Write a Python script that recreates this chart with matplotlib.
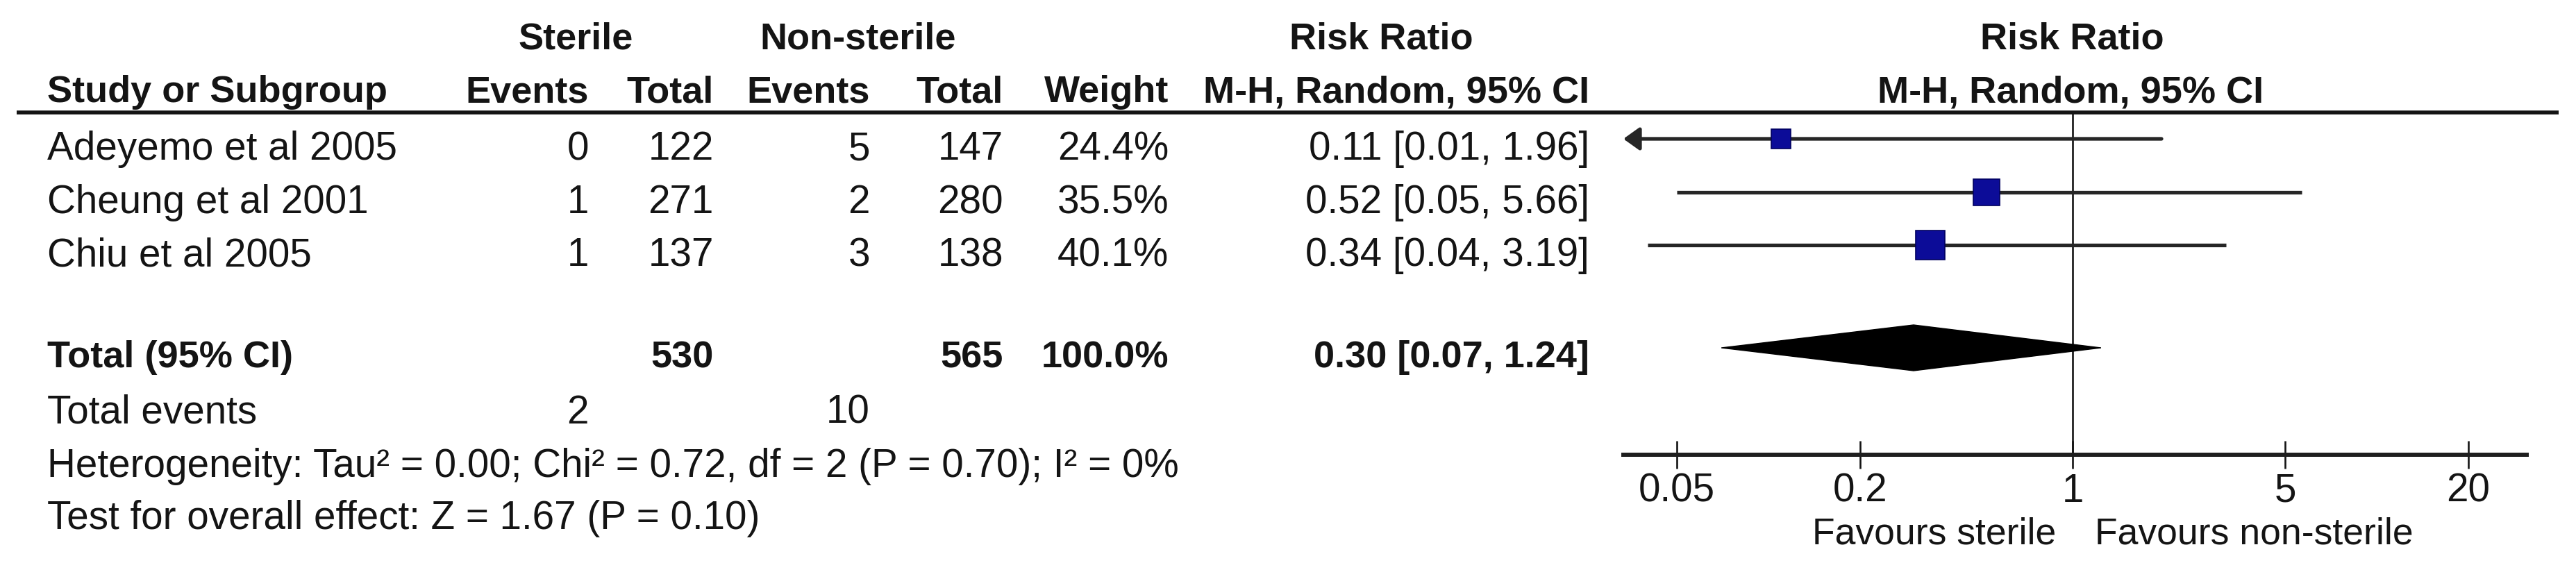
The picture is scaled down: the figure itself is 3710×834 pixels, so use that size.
import matplotlib
matplotlib.use("Agg")
import matplotlib.pyplot as plt
from matplotlib.patches import Polygon
from matplotlib.ticker import NullLocator, FixedLocator, FixedFormatter

# ---------------- data ----------------
studies = ["Adeyemo et al 2005", "Cheung et al 2001", "Chiu et al 2005"]
sterile_events = [0, 1, 1]
sterile_total = [122, 271, 137]
nonsterile_events = [5, 2, 3]
nonsterile_total = [147, 280, 138]
weights = [24.4, 35.5, 40.1]
rr = [0.11, 0.52, 0.34]
ci_low = [0.01, 0.05, 0.04]
ci_high = [1.96, 5.66, 3.19]

total_sterile = 530
total_nonsterile = 565
total_weight = 100.0
total_rr = 0.30
total_low = 0.07
total_high = 1.24
events_sterile = 2
events_nonsterile = 10

heterogeneity = "Heterogeneity: Tau\u00b2 = 0.00; Chi\u00b2 = 0.72, df = 2 (P = 0.70); I\u00b2 = 0%"
overall_test = "Test for overall effect: Z = 1.67 (P = 0.10)"

tick_values = [0.05, 0.2, 1, 5, 20]
tick_labels = ["0.05", "0.2", "1", "5", "20"]
favours_left = "Favours sterile"
favours_right = "Favours non-sterile"

# ---------------- figure ----------------
plt.rcParams['font.family'] = ['Liberation Sans', 'DejaVu Sans']
W, H, DPI = 3710, 834, 100
fig = plt.figure(figsize=(W / DPI, H / DPI), dpi=DPI)
fig.patch.set_facecolor('white')

ink = '#141414'
FS = 40.8
FSB = 39.0

tax = fig.add_axes([0, 0, 1, 1])
tax.set_xlim(0, W)
tax.set_ylim(H, 0)
tax.axis('off')


def T(x, y, s, ha='left', bold=False, size=None):
    if size is None:
        size = FSB if bold else FS
    tax.text(x, y, s, ha=ha, va='baseline', fontsize=size,
             fontweight='bold' if bold else 'normal', color=ink)


# column anchors (pixels)
x_name = 68
x_se, x_st, x_ne, x_nt, x_w, x_rr = 848, 1028, 1253, 1445, 1683, 2289

# headers
T(829, 70, 'Sterile', 'center', True)
T(1236, 70, 'Non-sterile', 'center', True)
T(1989, 70, 'Risk Ratio', 'center', True)
T(2984, 70, 'Risk Ratio', 'center', True)
hy = 147
T(x_name, hy, 'Study or Subgroup', 'left', True)
T(x_se, hy, 'Events', 'right', True)
T(x_st, hy, 'Total', 'right', True)
T(x_ne, hy, 'Events', 'right', True)
T(x_nt, hy, 'Total', 'right', True)
T(x_w, hy, 'Weight', 'right', True)
T(x_rr, hy, 'M-H, Random, 95% CI', 'right', True)
T(2982, hy, 'M-H, Random, 95% CI', 'center', True)

tax.plot([24, 3685], [162, 162], color=ink, lw=4.0, solid_capstyle='butt')

# study rows
row_base = [230, 307, 383]
for i, name in enumerate(studies):
    y = row_base[i]
    T(x_name, y, name)
    T(x_se, y, f"{sterile_events[i]}", 'right')
    T(x_st, y, f"{sterile_total[i]}", 'right')
    T(x_ne, y, f"{nonsterile_events[i]}", 'right')
    T(x_nt, y, f"{nonsterile_total[i]}", 'right')
    T(x_w, y, f"{weights[i]:.1f}%", 'right')
    T(x_rr, y, f"{rr[i]:.2f} [{ci_low[i]:.2f}, {ci_high[i]:.2f}]", 'right')

# total row
ty = 529
T(x_name, ty, 'Total (95% CI)', 'left', True)
T(x_st, ty, f"{total_sterile}", 'right', True)
T(x_nt, ty, f"{total_nonsterile}", 'right', True)
T(x_w, ty, f"{total_weight:.1f}%", 'right', True)
T(x_rr, ty, f"{total_rr:.2f} [{total_low:.2f}, {total_high:.2f}]", 'right', True)

ey = 610
T(x_name, ey, 'Total events')
T(x_se, ey, f"{events_sterile}", 'right')
T(x_ne, ey, f"{events_nonsterile}", 'right')
T(x_name, 687, heterogeneity)
T(x_name, 762, overall_test)

T(2961, 784, favours_left, 'right', size=38.5)
T(3017, 784, favours_right, 'left', size=38.5)

# ---------------- forest axes ----------------
left_px, right_px, top_px, bot_px = 2338, 3639, 163, 655
center_px, px_per_decade = 2985, 438.0
row_px0, row_step = 200.0, 76.5

fax = fig.add_axes([left_px / W, 1 - bot_px / H,
                    (right_px - left_px) / W, (bot_px - top_px) / H])
fax.set_xscale('log')
xmin = 10 ** ((left_px - center_px) / px_per_decade)
xmax = 10 ** ((right_px - center_px) / px_per_decade)
fax.set_xlim(xmin, xmax)
y_top = 1 - (row_px0 - top_px) / row_step
y_bot = 1 + (bot_px - row_px0) / row_step
fax.set_ylim(y_bot, y_top)
fax.patch.set_alpha(0)
for s in ['top', 'left', 'right']:
    fax.spines[s].set_visible(False)
fax.spines['bottom'].set_linewidth(4.3)
fax.spines['bottom'].set_color('#1e1e1e')
fax.set_yticks([])
fax.xaxis.set_major_locator(FixedLocator(tick_values))
fax.xaxis.set_major_formatter(FixedFormatter(tick_labels))
fax.xaxis.set_minor_locator(NullLocator())
fax.tick_params(axis='x', direction='inout', length=28.8, width=1.9,
                pad=4, labelsize=FS, colors=ink)

fax.axvline(1, color=ink, lw=1.9, zorder=1)

blue_face = '#0c0c98'
blue_edge = '#000060'
line_col = '#262626'
max_w = max(weights)
for i in range(len(studies)):
    y = i + 1
    lo = ci_low[i]
    if lo < xmin:
        fax.annotate('', xy=(xmin, y), xytext=(ci_high[i], y),
                     arrowprops=dict(arrowstyle='-|>,head_length=0.7,head_width=0.5',
                                     mutation_scale=20, lw=3.8, color=line_col,
                                     shrinkA=0, shrinkB=0),
                     annotation_clip=False, zorder=2)
    else:
        fax.plot([lo, ci_high[i]], [y, y], color=line_col, lw=3.8,
                 solid_capstyle='butt', zorder=2)
    side_pt = 30.0 * (weights[i] / max_w) ** 0.75
    fax.plot([rr[i]], [y], marker='s', ms=side_pt, mfc=blue_face,
             mec=blue_edge, mew=1.2, zorder=4, linestyle='none')

yd = 1 + (501 - row_px0) / row_step
hh = 33 / row_step
fax.add_patch(Polygon([(total_low, yd), (total_rr, yd - hh), (total_high, yd),
                       (total_rr, yd + hh)], closed=True, fc='black', ec='black',
                      lw=1, zorder=3))

fig.savefig('out.png', dpi=DPI, facecolor='white')
